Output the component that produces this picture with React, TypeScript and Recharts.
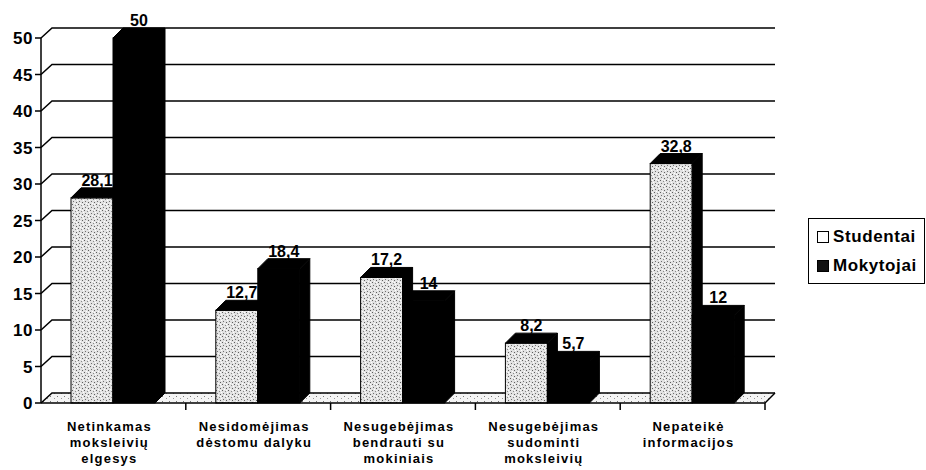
import React from "react";
import { BarChart, Bar, XAxis, YAxis, CartesianGrid, Legend, LabelList } from "recharts";

const categories = [
  "Netinkamas\nmoksleivių\nelgesys",
  "Nesidomėjimas\ndėstomu dalyku",
  "Nesugebėjimas\nbendrauti su\nmokiniais",
  "Nesugebėjimas\nsudominti\nmoksleivių",
  "Nepateikė\ninformacijos",
];
const studentai = [28.1, 12.7, 17.2, 8.2, 32.8];
const mokytojai = [50, 18.4, 14, 5.7, 12];
const yTicks = [0, 5, 10, 15, 20, 25, 30, 35, 40, 45, 50];
const seriesOrder = ["Studentai", "Mokytojai"];

const data = categories.map((name, i) => ({
  name,
  Studentai: studentai[i],
  Mokytojai: mokytojai[i],
}));

const FONT = '"Liberation Sans", Arial, sans-serif';
const DEPTH = 10;

function Bar3D(props: any) {
  const { x, y, width, height, fill } = props;
  if (height == null || height <= 0) return null;
  const d = DEPTH;
  return (
    <g>
      <rect x={x} y={y} width={width} height={height} fill={fill} stroke="#000" strokeWidth={1} />
      <polygon
        points={`${x},${y} ${x + d},${y - d} ${x + width + d},${y - d} ${x + width},${y}`}
        fill="#000"
        stroke="#000"
      />
      <polygon
        points={`${x + width},${y} ${x + width + d},${y - d} ${x + width + d},${y + height - d} ${x + width},${y + height}`}
        fill="#000"
        stroke="#000"
      />
    </g>
  );
}

function ValueLabel(props: any) {
  const { x, y, width, value } = props;
  return (
    <text
      x={x + width / 2 + DEPTH / 2}
      y={y - DEPTH - 2}
      textAnchor="middle"
      fontFamily={FONT}
      fontWeight={700}
      fontSize={16}
      fill="#000"
    >
      {String(value).replace(".", ",")}
    </text>
  );
}

function GridLine(props: any) {
  const { x1, y1, x2, index } = props;
  const d = DEPTH;
  return (
    <g>
      {index === 0 && (
        <polygon
          points={`${x1},${y1} ${x1 + d},${y1 - d} ${x2 + d},${y1 - d} ${x2},${y1}`}
          fill="url(#floorDots)"
        />
      )}
      <polyline
        points={`${x1},${y1} ${x1 + d + 1},${y1 - d} ${x2 + d},${y1 - d}`}
        fill="none"
        stroke="#000"
        strokeWidth={1.5}
      />
      {index === 0 && <line x1={x2} y1={y1} x2={x2 + d} y2={y1 - d} stroke="#000" strokeWidth={1.5} />}
    </g>
  );
}

function CategoryTick({ x, y, payload }: any) {
  const lines = String(payload.value).split("\n");
  const half = payload.offset ?? 0;
  return (
    <g>
      <line x1={x + half} y1={y - 8} x2={x + half} y2={y - 1} stroke="#000" strokeWidth={1.5} />
      <text
        x={x - 4}
        y={y + 20}
        textAnchor="middle"
        fontFamily={FONT}
        fontWeight={700}
        fontSize={13}
        letterSpacing={1.2}
        fill="#000"
      >
        {lines.map((l, i) => (
          <tspan key={i} x={x - 4} dy={i === 0 ? 0 : 16}>
            {l}
          </tspan>
        ))}
      </text>
    </g>
  );
}

function LegendBox({ payload }: any) {
  const items = [...(payload || [])].sort(
    (a: any, b: any) => seriesOrder.indexOf(a.value) - seriesOrder.indexOf(b.value)
  );
  return (
    <div
      style={{
        border: "1.5px solid #000",
        background: "#fff",
        padding: "3px 4px 3px 8px",
        fontFamily: FONT,
        fontWeight: 700,
        fontSize: 17,
        letterSpacing: 0.6,
        color: "#000",
      }}
    >
      {items.map((p: any) => (
        <div key={p.value} style={{ display: "flex", alignItems: "center", height: 29 }}>
          <span
            style={{
              display: "inline-block",
              width: 10,
              height: 10,
              border: "1.5px solid #000",
              background: p.value === "Mokytojai" ? "#111" : "#fff",
              marginRight: 4,
            }}
          />
          {p.value}
        </div>
      ))}
    </div>
  );
}

export default function App() {
  return (
    <div style={{ position: "absolute", left: 0, top: 0, background: "#fff" }}>
      <svg width={0} height={0} style={{ position: "absolute" }}>
        <defs>
          <pattern id="speckle" width={6} height={6} patternUnits="userSpaceOnUse">
            <rect width={6} height={6} fill="#e2e2e2" />
            <rect x={0} y={0} width={1} height={1} fill="#5e5e5e" />
            <rect x={3} y={1} width={1} height={1} fill="#8a8a8a" />
            <rect x={1} y={3} width={1} height={1} fill="#707070" />
            <rect x={4} y={4} width={1} height={1} fill="#5e5e5e" />
            <rect x={5} y={2} width={1} height={1} fill="#ffffff" />
            <rect x={2} y={5} width={1} height={1} fill="#ffffff" />
            <rect x={4} y={0} width={1} height={1} fill="#ffffff" />
          </pattern>
          <pattern id="floorDots" width={7} height={5} patternUnits="userSpaceOnUse">
            <rect width={7} height={5} fill="#f4f4f4" />
            <rect x={1} y={1} width={1} height={1} fill="#777" />
            <rect x={5} y={3} width={1} height={1} fill="#999" />
          </pattern>
        </defs>
      </svg>
      <BarChart
        width={926}
        height={470}
        data={data}
        margin={{ top: 38, right: 161, bottom: 0, left: 0 }}
        barSize={42}
        barGap={0}
      >
        <CartesianGrid vertical={false} horizontal={GridLine as any} />
        <XAxis
          dataKey="name"
          height={67}
          interval={0}
          axisLine={{ stroke: "#000", strokeWidth: 1.5 }}
          tickLine={false}
          tick={<CategoryTick />}
        />
        <YAxis
          width={41}
          domain={[0, 50]}
          ticks={yTicks}
          interval={0}
          axisLine={{ stroke: "#000", strokeWidth: 1.5 }}
          tickLine={{ stroke: "#000", strokeWidth: 1.5 }}
          tickSize={6}
          tick={{ fill: "#000", fontSize: 17, fontWeight: 700, fontFamily: FONT, letterSpacing: 0.5 }}
        />
        <Legend
          layout="horizontal"
          align="center"
          verticalAlign="middle"
          content={<LegendBox />}
          wrapperStyle={{ left: 808, top: 218, width: 117 }}
        />
        <Bar dataKey="Studentai" fill="url(#speckle)" shape={<Bar3D />} isAnimationActive={false}>
          <LabelList dataKey="Studentai" content={<ValueLabel />} />
        </Bar>
        <Bar dataKey="Mokytojai" fill="#000" shape={<Bar3D />} isAnimationActive={false}>
          <LabelList dataKey="Mokytojai" content={<ValueLabel />} />
        </Bar>
      </BarChart>
    </div>
  );
}
